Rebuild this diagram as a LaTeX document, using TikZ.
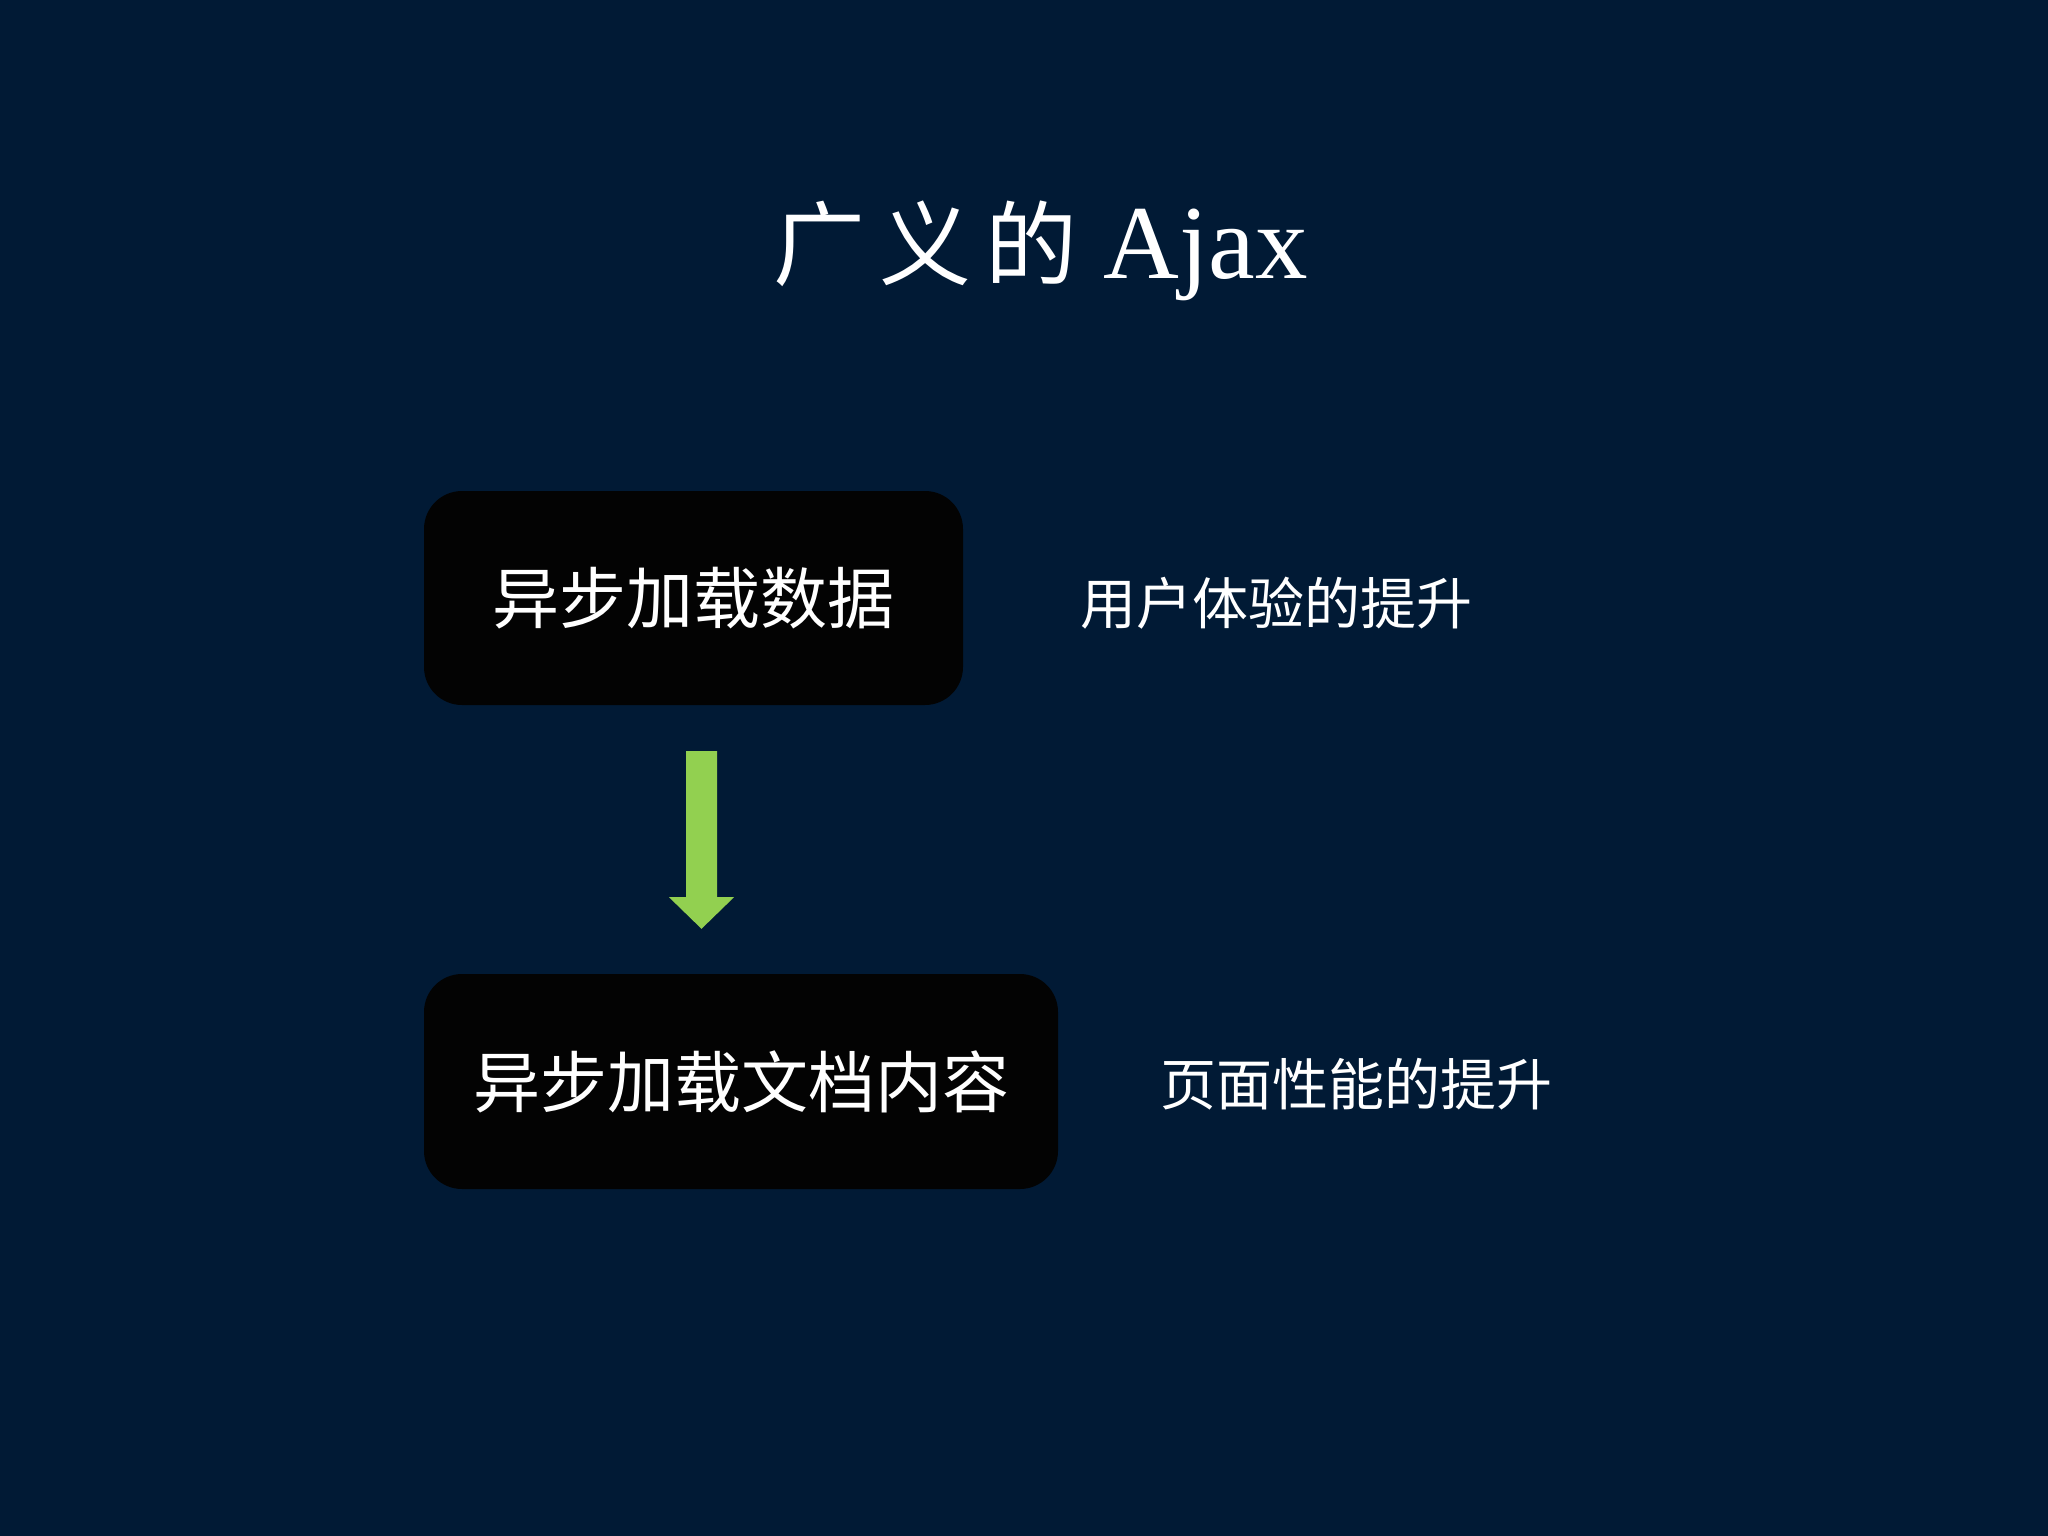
\documentclass[tikz,border=0pt]{standalone}
\usepackage{fontspec}
\newfontfamily\cjk{Noto Sans CJK SC}
\newfontfamily\latinserif{Liberation Serif}
\usetikzlibrary{calc}
\definecolor{bgnavy}{HTML}{011A35}
\definecolor{boxblack}{HTML}{030303}
\definecolor{arrowgreen}{HTML}{92D050}
\tikzset{
  stepbox/.style={fill=boxblack, rounded corners=38pt, inner sep=0pt, text=white,
    font=\cjk\fontsize{67pt}{80pt}\selectfont},
  sidenote/.style={text=white, inner sep=0pt, anchor=west,
    font=\cjk\fontsize{56pt}{68pt}\selectfont},
}
\begin{document}
\begin{tikzpicture}[x=1pt,y=-1pt]
\fill[bgnavy] (0,0) rectangle (2048,1536);
\useasboundingbox (0,0) rectangle (2048,1536);
% title
\node[text=white, inner sep=0pt, anchor=base] (title) at (1041,278)
  {\cjk\fontsize{92pt}{110pt}\selectfont 广\hspace{14pt}义\hspace{14pt}的\hspace{26pt}\latinserif\fontsize{105pt}{120pt}\selectfont Ajax};
% boxes
\node[stepbox, minimum width=539pt, minimum height=214pt] (b1) at (693.5,598) {异步加载数据};
\node[stepbox, minimum width=634pt, minimum height=215pt] (b2) at (741,1081.5) {异步加载文档内容};
% side notes
\node[sidenote] (n1) at (1080,603) {用户体验的提升};
\node[sidenote] (n2) at (1160,1084) {页面性能的提升};
% block arrow between boxes
\fill[arrowgreen]
  ($(b1.south)+(-7.5,46)$) -- ($(b1.south)+(23.5,46)$) -- ($(b1.south)+(23.5,192)$)
  -- ($(b1.south)+(40.5,192)$) -- ($(b2.north)+(-39.5,-45)$)
  -- ($(b1.south)+(-24.5,192)$) -- ($(b1.south)+(-7.5,192)$) -- cycle;
\end{tikzpicture}
\end{document}
